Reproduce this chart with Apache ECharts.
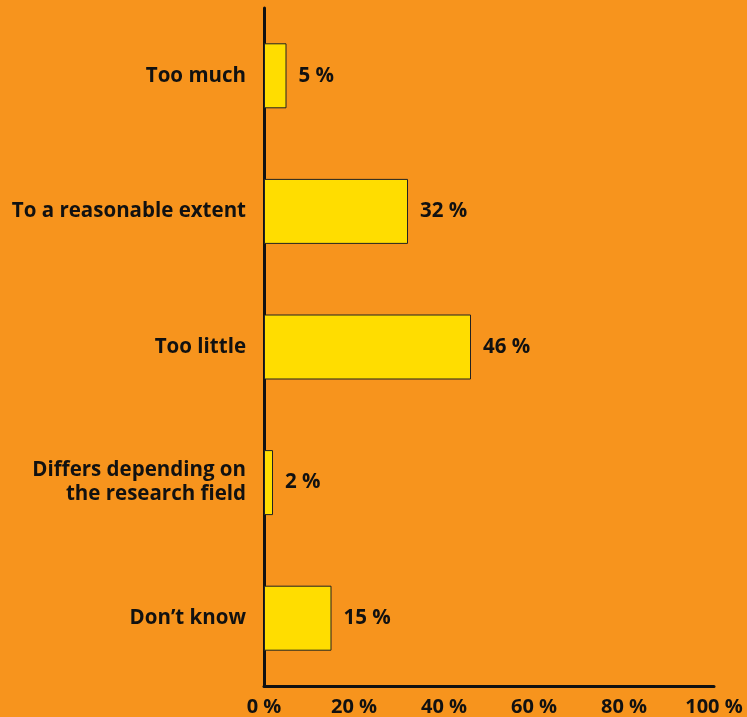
<!DOCTYPE html>
<html>
<head>
<meta charset="utf-8">
<script src="https://cdn.jsdelivr.net/npm/echarts@6/dist/echarts.min.js"></script>
<style>
  html, body { margin: 0; padding: 0; background: #F7941D; }
  #chart { width: 747px; height: 717px; }
</style>
</head>
<body>
<div id="chart"></div>
<script>
// answers, top to bottom
const categories = ['Too much', 'To a reasonable extent', 'Too little', 'Differs depending on\nthe research field', 'Don\u2019t know'];
const shares = [5, 32, 46, 2, 15];
const xTicks = [0, 20, 40, 60, 80, 100];

const font = '"Open Sans", "DejaVu Sans", sans-serif';
const chart = echarts.init(document.getElementById('chart'));
chart.setOption({
    backgroundColor: '#F7941D',
    animation: false,
    grid: { left: 264, right: 33, top: 8, bottom: 31 },
    xAxis: {
        type: 'value',
        min: xTicks[0],
        max: xTicks[xTicks.length - 1],
        interval: 20,
        splitLine: { show: false },
        axisTick: { show: false },
        axisLine: { show: true, lineStyle: { color: '#111', width: 3 } },
        axisLabel: {
            color: '#111', fontFamily: font, fontWeight: 'bold', fontSize: 20,
            margin: 11,
            formatter: v => v + ' %'
        }
    },
    yAxis: {
        type: 'category',
        inverse: true,
        data: categories,
        axisTick: { show: false },
        axisLine: { show: true, lineStyle: { color: '#111', width: 3 } },
        axisLabel: {
            color: '#111', fontFamily: font, fontWeight: 'bold', fontSize: 20.5,
            margin: 18, lineHeight: 24, align: 'right'
        }
    },
    series: [{
        type: 'bar',
        data: shares,
        barWidth: 65,
        itemStyle: { color: '#FFDD00', borderColor: '#222', borderWidth: 1 },
        label: {
            show: true,
            position: 'right',
            distance: 12,
            color: '#111', fontFamily: font, fontWeight: 'bold', fontSize: 20.5,
            formatter: p => p.value + ' %'
        }
    }]
});
</script>
</body>
</html>
